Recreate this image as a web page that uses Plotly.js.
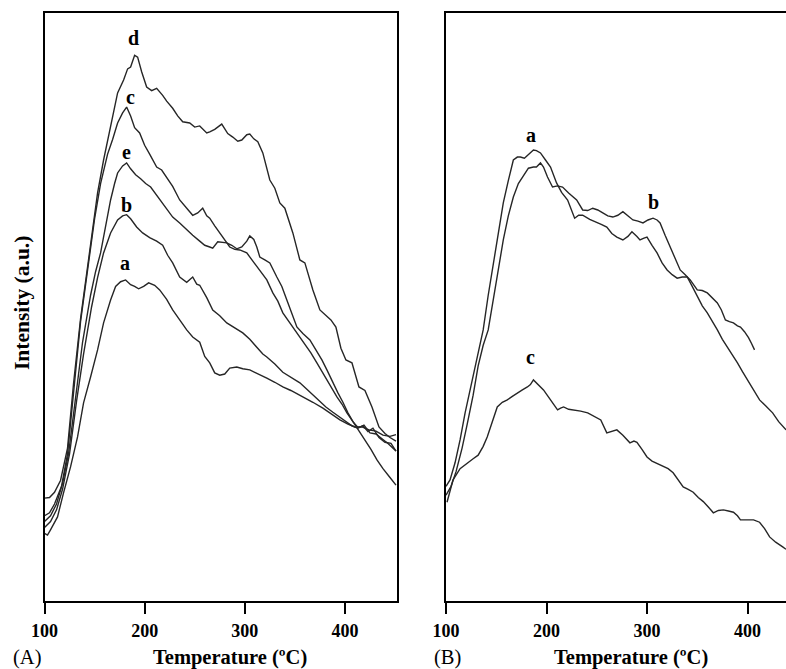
<!DOCTYPE html>
<html>
<head>
<meta charset="utf-8">
<script src="https://cdn.plot.ly/plotly-3.0.1.min.js"></script>
<style>html,body{margin:0;padding:0;background:#fff;}#chart{width:786px;height:669px;}</style>
</head>
<body>
<div id="chart"></div>
<script>
// Panel A (left)
const aT_A = [100,103,106,110,113,119,126,133,139,146,153,159,166,171,176,181,186,190,194,199,204,210,215,222,228,235,242,248,255,260,265,270,275,280,285,292,298,305,313,322,330,338,346,355,362,368,378,386,395,403,410,417,424,431,438,445,451];
const aV_A = [11.5,11.2,12.1,13.5,14.3,18.4,22.8,27.9,33.7,38.1,42.7,47.3,51.2,53.5,54.3,54.6,53.8,53.5,53.1,53.5,54.1,53.7,52.9,51.3,49.5,47.8,46.1,44.9,44,41.6,40.5,38.8,38.4,38.6,39.6,39.8,39.5,39.3,38.7,37.9,37.2,36.4,35.8,35,34.4,33.8,32.8,31.8,30.8,30.1,29.6,29.6,29.1,28.9,28.2,28,28.3];

const bT_A = [100,106,112,118,125,132,139,147,153,159,166,173,178,182,186,192,198,205,212,218,223,228,235,242,248,252,255,262,268,275,282,290,298,305,312,318,322,330,338,346,355,362,368,375,381,388,395,401,407,413,419,425,431,437,443,451];
const bV_A = [12.5,13.5,15.5,19,25,34,42,50,55,59.2,62.6,64.8,65.5,65.7,65,63.6,62.6,61.8,61.2,60.5,58.8,57.5,55.1,54.2,55.1,53.9,53.7,51.6,49.5,48.5,47.3,46.5,45.6,44.5,43.2,42,41.5,40.3,38.9,38,37.1,36,35,34,33,32.1,31.3,30.5,29.8,29.4,29.9,28.6,28.4,27.6,26.8,25.5];

const cT_A = [100,105,110,117,123,129,136,144,150,156,163,168,173,178,182,186,190,195,200,205,212,217,222,228,235,241,248,253,258,262,265,270,275,280,285,290,295,302,307,312,317,322,328,333,338,343,348,355,360,366,372,377,382,387,392,397,402,408,414,420,426,432,438,445,451];
const cV_A = [14.5,15,16.5,19.5,25,36,47.5,57.5,65,71,76,78.5,81.3,83,84,82.5,80.5,79.6,77.5,76,73.8,73.3,72,70.5,68.2,67,65.6,66,66.8,65.5,65.1,63.8,62.6,61.5,60.2,59.8,59.7,59.2,58,56.8,55.6,54.6,52.4,51,49,47.8,46.6,44.9,43.5,42.2,40.5,39,37.6,36,34.7,33.5,32,30.5,29,27.5,25.8,24,22.5,21,19.7];

const dT_A = [100,105,110,116,123,129,136,144,148,153,159,166,173,179,183,186,190,193,197,202,207,212,218,222,228,233,238,245,250,255,262,265,270,277,283,288,293,297,302,305,309,313,318,325,330,335,340,348,355,360,365,368,375,381,386,391,396,401,407,414,420,427,434,440,445,451];
const dV_A = [17.5,17.6,18.5,20.5,26,37,48,58,63.6,69.4,75,80.6,86.4,88.6,90.5,90.8,92.8,92.5,90,87.4,86.8,87.2,86,85,83.8,82.5,81.5,81.3,80.6,80.8,79.6,79.8,80.2,81.1,79.5,78.9,78.2,78.4,79.3,79.4,78.6,78.1,76.2,71.6,70.2,67.7,66.8,62.6,58,57.5,54.6,52.9,49.5,48.6,47.8,46.6,43,41,40.5,36.4,35.8,33,29.6,28.5,27.8,27.2];

const eT_A = [100,106,112,118,124,131,138,146,151,156,161,166,170,173,178,182,186,191,196,201,206,211,215,220,228,235,242,248,255,260,265,268,273,278,282,287,292,297,302,305,309,312,315,320,325,332,337,342,347,352,358,365,371,377,382,388,393,398,403,408,413,418,423,428,434,440,446,451];
const eV_A = [13.5,14.5,16.5,20,25,35,44,52,56,59.2,63.6,68.2,71,72.8,74,74.5,73.5,72.5,71.8,71,70.4,69.2,68.2,67,65.3,64.3,63.1,62.2,61.2,60.5,60.2,60,61.1,61,60.9,60.5,59.9,60.2,61.2,62.1,61.5,60.2,58.5,58,57.5,55.1,53.5,51.2,48.8,46.6,45.5,44.4,42.7,41,39.3,37.1,35.4,33.8,32,30.5,29.5,29.8,28.8,29.4,27.8,27,26.8,25.5];

// Panel B (right)
const aT_B = [100,104,109,114,119,126,132,137,142,147,152,157,162,167,171,174,178,183,187,190,194,199,204,210,215,221,228,232,236,243,250,255,260,265,270,276,281,285,290,293,297,300,305,310,315,320,325,330,335,340,345,350,355,360,365,370,375,380,385,390,395,400,405,412,418,425,431,438.3];
const aV_B = [19.5,20.6,23.5,27.4,32,37.6,42.7,46.1,52,57.5,62.5,67.7,71.5,75,75.5,75.5,75.3,76.1,76.7,76.6,76.2,75,73.8,71.1,69.5,68.2,65.1,65.6,65.6,64.9,64.3,64,63.6,62.5,61.9,61.4,62,62.8,62,61.4,61.7,61.9,60.5,59.2,57.5,56.3,55.5,54.9,55.1,55.1,53.5,51.7,50.2,49,47.6,46.1,44.5,43.2,41.8,40.5,39,37.6,36,34.2,33.2,32,30.5,29.1];

const bT_B = [100,105,110,116,121,127,132,137,142,147,152,157,162,167,172,176,182,187,190,194,197,201,206,211,216,222,230,236,241,246,251,256,261,266,271,276,281,286,291,296,301,306,310,313,318,323,328,333,338,343,350,355,360,365,370,374,378,382,386,390,393,397,401,404,407];
const bV_B = [18,19.5,22,26,30,35,40,43.5,46.1,51,56.5,61.4,65.5,68.7,71,72.1,73.6,73.8,73.8,74.5,73.8,72.1,70.4,70.6,70.4,69.4,68.2,66.5,66.4,66.8,66.5,66,65.5,65.3,65.6,66.2,65.5,64.8,64.6,64.3,64.8,65.1,64.8,64.3,62.2,60.2,58.5,56.3,55.5,54.6,52.9,52.8,52.4,51.6,50.7,49.5,47.8,47.5,47.3,46.8,46.6,45.8,44.8,43.8,42.7];

const cT_B = [101,107,114,121,127,132,137,141,146,151,156,161,166,171,176,181,184,187,192,197,204,211,214,217,222,227,234,241,247,254,260,265,270,276,283,287,290,295,300,305,311,316,321,326,331,336,341,346,351,356,361,366,371,376,381,386,390,393,400,406,412,417,422,428,435,438.3];
const cV_B = [16.8,20.6,22.5,23.5,24.2,24.8,26.3,27.9,30.5,33,33.8,34.2,34.8,35.4,35.9,36.4,36.8,37.6,36.8,35.9,34.2,32.5,32.8,33,32.6,32.5,32.3,32,31.4,30.8,28.6,28.8,29.1,28.2,26.9,27.2,27,25.8,24.5,23.8,23.3,22.8,22.5,21.8,20.6,19.4,19,18.5,17.6,16.9,16,15,15.4,15.5,15.3,15.1,14.5,13.8,13.8,13.8,13.4,12.3,10.9,10,9.2,8.8];

const tickVals = [100,200,300,400];
const tickLabels = ['100','200','300','400'];

// curve labels
const labelsA = [['d',188.6,95.7],['c',185.6,85.7],['e',181.6,76.4],['b',181.6,67.3],['a',180.6,57.5]];
const labelsB = [['a',184.6,79.3],['b',306,67.9],['c',183.6,41.5]];

const lineStyle = {color:'#262626', width:1.4};
function tr(x, y, xa, ya){ return {x:x, y:y, xaxis:xa, yaxis:ya, type:'scatter', mode:'lines', line:lineStyle, hoverinfo:'skip'}; }

const data = [
  tr(aT_A,aV_A,'x','y'), tr(bT_A,bV_A,'x','y'), tr(cT_A,cV_A,'x','y'), tr(dT_A,dV_A,'x','y'), tr(eT_A,eV_A,'x','y'),
  tr(aT_B,aV_B,'x2','y2'), tr(bT_B,bV_B,'x2','y2'), tr(cT_B,cV_B,'x2','y2')
];

const FONT = 'Liberation Serif, Times New Roman, serif';
const xBase = {
  showline:true, linecolor:'#000', linewidth:2, mirror:true,
  ticks:'outside', ticklen:11, tickwidth:2, tickcolor:'#000',
  tickvals:tickVals, ticktext:tickLabels.map(t=>'<b>'+t+'</b>'),
  tickfont:{family:FONT, size:18, color:'#000'},
  showgrid:false, zeroline:false, fixedrange:true, ticklabelstandoff:1
};
const yBase = {range:[0,100], showline:true, linecolor:'#000', linewidth:2, showticklabels:false, ticks:'', showgrid:false, zeroline:false, fixedrange:true};

// paper coords: plot area spans y 13..601 px, x 0..786 px
const TOP = 13, BOT = 601;
function py(p){ return (BOT - p) / (BOT - TOP); }

const annotations = [];
const lblFont = {family:FONT, size:20, color:'#000'};
labelsA.forEach(l=>annotations.push({x:l[1], y:l[2], xref:'x', yref:'y', text:'<b>'+l[0]+'</b>', showarrow:false, font:lblFont}));
labelsB.forEach(l=>annotations.push({x:l[1], y:l[2], xref:'x2', yref:'y2', text:'<b>'+l[0]+'</b>', showarrow:false, font:lblFont}));
const pT = {family:FONT, size:20.5, color:'#000'};
annotations.push({x:229.5/786, y:py(657), xref:'paper', yref:'paper', text:'<b>Temperature (ºC)</b>', showarrow:false, font:pT, xanchor:'center', yanchor:'middle'});
annotations.push({x:630.5/786, y:py(657), xref:'paper', yref:'paper', text:'<b>Temperature (ºC)</b>', showarrow:false, font:pT, xanchor:'center', yanchor:'middle'});
annotations.push({x:27/786, y:py(657), xref:'paper', yref:'paper', text:'(A)', showarrow:false, font:pT, xanchor:'center', yanchor:'middle'});
annotations.push({x:447/786, y:py(657), xref:'paper', yref:'paper', text:'(B)', showarrow:false, font:pT, xanchor:'center', yanchor:'middle'});
annotations.push({x:22/786, y:py(303), xref:'paper', yref:'paper', text:'<b>Intensity (a.u.)</b>', showarrow:false, font:{family:FONT, size:21.5, color:'#000'}, textangle:-90, xanchor:'center', yanchor:'middle'});

const layout = {
  width:786, height:669,
  margin:{l:0, r:0, t:TOP, b:669-BOT},
  paper_bgcolor:'#fff', plot_bgcolor:'#fff',
  showlegend:false,
  xaxis: Object.assign({}, xBase, {domain:[44.5/786, 397/786], range:[100,452], anchor:'y'}),
  yaxis: Object.assign({}, yBase, {mirror:true, anchor:'x'}),
  xaxis2: Object.assign({}, xBase, {domain:[446/786, 1], range:[100,438.3], anchor:'y2'}),
  yaxis2: Object.assign({}, yBase, {mirror:false, anchor:'x2'}),
  annotations: annotations
};

Plotly.newPlot('chart', data, layout, {displayModeBar:false, staticPlot:true});
</script>
</body>
</html>
